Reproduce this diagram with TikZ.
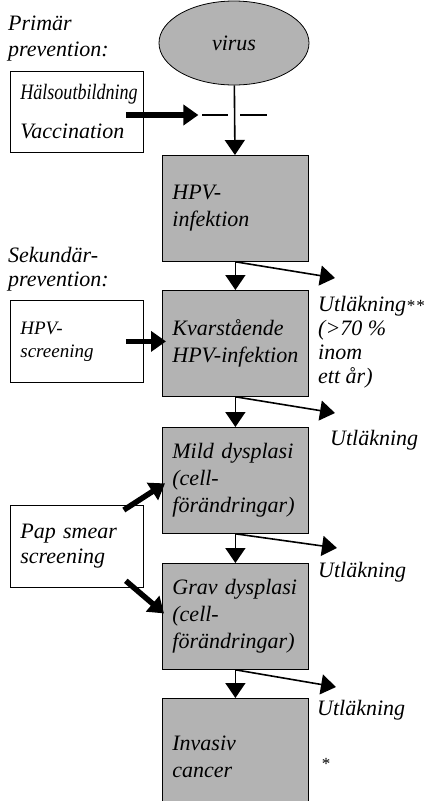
\documentclass[tikz,border=0pt]{standalone}
\usepackage{fontspec}
\usepackage{graphicx}
\setmainfont{Liberation Serif}
\usetikzlibrary{arrows.meta,shapes.geometric,positioning}
\definecolor{box_gray}{HTML}{B3B3B3}

\tikzset{
  stagebox/.style={draw, fill=box_gray, line width=0.8pt, text width=126pt, inner xsep=10pt, inner ysep=0pt,
    minimum height=106pt, align=left, anchor=north west, font=\fontsize{22}{27}\selectfont\itshape},
  actbox/.style={draw, fill=white, line width=0.8pt, text width=113pt, inner xsep=10pt, inner ysep=0pt,
    minimum height=82pt, align=left, anchor=north west, font=\fontsize{22}{25}\selectfont\itshape},
  note/.style={anchor=north west, inner sep=0pt, align=left, font=\fontsize{22}{24}\selectfont\itshape},
  flow/.style={line width=1.6pt, -{Triangle[length=15pt,width=20pt]}},
  push/.style={line width=5.5pt, -{Triangle[length=15pt,width=20pt]}},
}

\begin{document}
\begin{tikzpicture}[x=1pt,y=-1pt]
        \useasboundingbox (0,0) rectangle (428,801);
        \clip (0,0) rectangle (428,801);
        % Virus
        \node[ellipse, draw, fill=box_gray, line width=0.8pt, minimum width=150pt, minimum height=84pt,
          font=\fontsize{22}{24}\selectfont\itshape] (virus) at (234,43) {virus};
        % Stadier
        \node[stagebox] (hpv) at (162,155) {HPV-\\infektion};
        \node[stagebox] (kvar) at (162,290) {Kvarstående\\HPV-infektion};
        \node[stagebox] (mild) at (162,427) {Mild dysplasi\\(cell-\\förändringar)};
        \node[stagebox] (grav) at (162,563) {Grav dysplasi\\(cell-\\förändringar)};
        \node[stagebox, minimum height=116pt] (cancer) at (162,698) {Invasiv\\cancer};
        % Prevention
        \node[note, font=\fontsize{22}{26}\selectfont\itshape] (prim) at (8,16) {Primär\\prevention:};
        \node[actbox, minimum height=81pt] (halso) at (10,71) {\scalebox{0.82}[1]{Hälsoutbildning}\\[14pt]Vaccination};
        \node[note] (sek) at (8,247) {Sekundär-\\prevention:};
        \node[actbox, font=\fontsize{19}{23}\selectfont\itshape] (screen) at (10,300) {HPV-\\screening};
        \node[actbox] (pap) at (10,505) {Pap smear\\screening};
        % Utläkning
        \node[note] (cure1) at (318,296) {Utläkning{\fontsize{17}{17}\selectfont*\kern1pt*}\\(>70 \%\\inom\\ett år)};
        \node[note] (cure2) at (330,430) {Utläkning};
        \node[note] (cure3) at (318,562) {Utläkning};
        \node[note] (cure4) at (317,700) {Utläkning};
        \node[font=\fontsize{17}{17}\selectfont] (star) at (326,764) {*};
        \coordinate (out1) at (335,278);
        \coordinate (out2) at (335,413);
        \coordinate (out3) at (337,548);
        \coordinate (out4) at (336,687);
        % Spärr
        \coordinate (barrier) at (hpv.north |- 0,115);
        \draw[line width=1.4pt] ([xshift=-33pt]barrier) -- ([xshift=-7pt]barrier);
        \draw[line width=1.4pt] ([xshift=5pt]barrier) -- ([xshift=32pt]barrier);
        % Pilar
        \draw[flow] (virus) -- (hpv);
        \draw[flow] (hpv) -- (kvar);
        \draw[flow] (kvar) -- (mild);
        \draw[flow] (mild) -- (grav);
        \draw[flow] (grav) -- (cancer);
        \draw[flow] (hpv.south) -- (out1);
        \draw[flow] (kvar.south) -- (out2);
        \draw[flow] (mild.south) -- (out3);
        \draw[flow] (grav.south) -- (out4);
        \draw[push] ([xshift=-18pt]halso.east |- barrier) -- ([xshift=-37pt]barrier);
        \draw[push] ([xshift=-18pt]screen.east) -- ([xshift=4pt]screen.east -| kvar.west);
        \draw[push] ([xshift=-20pt,yshift=-5pt]pap.north east) -- ([xshift=3pt,yshift=-3pt]mild.west);
        \draw[push] ([xshift=-18pt,yshift=7pt]pap.south east) -- ([xshift=2pt,yshift=3pt]grav.west);
    \end{tikzpicture}
\end{document}
